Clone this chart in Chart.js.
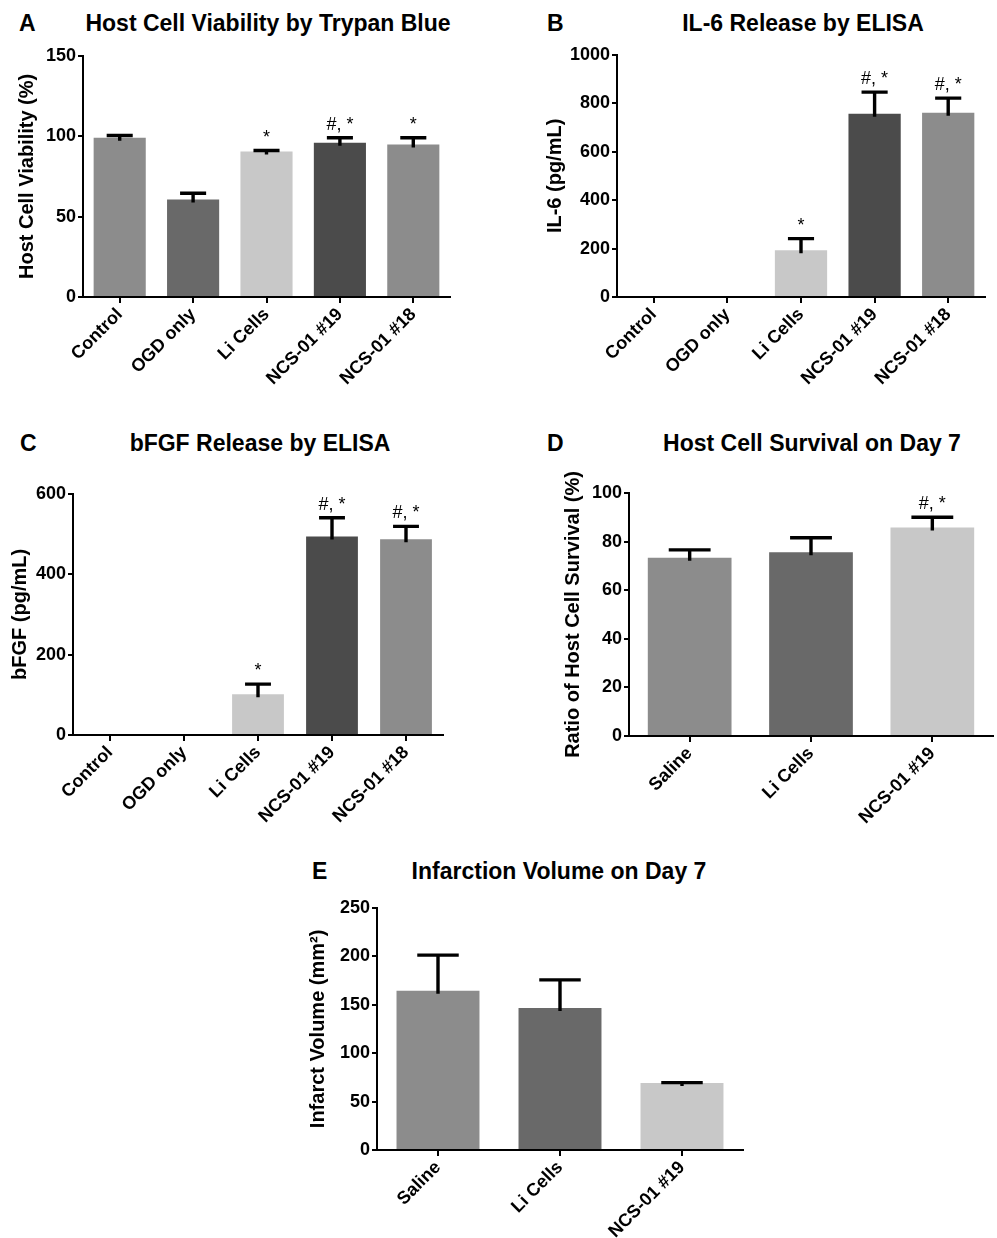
<!DOCTYPE html>
<html>
<head>
<meta charset="utf-8">
<script src="https://cdn.jsdelivr.net/npm/chart.js@4.4.1/dist/chart.umd.min.js"></script>
<style>
  html, body { margin:0; padding:0; background:#fff; width:997px; height:1238px; overflow:hidden; }
  body { position:relative; font-family:"Liberation Sans", Arial, sans-serif; }
  .cv { position:absolute; }
  .ttl { position:absolute; width:600px; text-align:center; font-weight:bold; font-size:23px; line-height:28px; color:#000; white-space:nowrap; }
  .lt { position:absolute; font-weight:bold; font-size:23px; line-height:28px; color:#000; }
</style>
</head>
<body>
<div class="lt" style="left:19px;top:9px;">A</div>
<div class="ttl" style="left:-32px;top:9px;">Host Cell Viability by Trypan Blue</div>
<div class="lt" style="left:547px;top:9px;">B</div>
<div class="ttl" style="left:503px;top:9px;">IL-6 Release by ELISA</div>
<div class="lt" style="left:20px;top:429px;">C</div>
<div class="ttl" style="left:-40px;top:429px;">bFGF Release by ELISA</div>
<div class="lt" style="left:547px;top:429px;">D</div>
<div class="ttl" style="left:512px;top:429px;">Host Cell Survival on Day 7</div>
<div class="lt" style="left:312px;top:857px;">E</div>
<div class="ttl" style="left:259px;top:857px;">Infarction Volume on Day 7</div>

<canvas id="cA" class="cv"></canvas>
<canvas id="cB" class="cv"></canvas>
<canvas id="cC" class="cv"></canvas>
<canvas id="cD" class="cv"></canvas>
<canvas id="cE" class="cv"></canvas>

<script>
// ---------- DATA ----------
const invitroGroups = ['Control', 'OGD only', 'Li Cells', 'NCS-01 #19', 'NCS-01 #18'];
const invivoGroups  = ['Saline', 'Li Cells', 'NCS-01 #19'];

const viabilityMean  = [99, 60.7, 90.5, 96, 94.8];
const viabilityErr   = [1.4, 3.8, 0.6, 3, 4.2];
const viabilityMarks = ['', '', '*', '#, *', '*'];

const il6Mean  = [0, 0, 193, 757, 761];
const il6Err   = [null, null, 48, 89, 60];
const il6Marks = ['', '', '*', '#, *', '#, *'];

const bfgfMean  = [0, 0, 101.5, 493.5, 487];
const bfgfErr   = [null, null, 25, 47, 32];
const bfgfMarks = ['', '', '*', '#, *', '#, *'];

const survivalMean  = [73.4, 75.6, 85.8];
const survivalErr   = [3.2, 6, 4.2];
const survivalMarks = ['', '', '#, *'];

const infarctMean  = [164.5, 146.6, 69.2];
const infarctErr   = [36.7, 29, 0.3];
const infarctMarks = ['', '', ''];

const invitroColors = ['#8c8c8c', '#696969', '#c8c8c8', '#4b4b4b', '#8c8c8c'];
const invivoColors  = ['#8c8c8c', '#696969', '#c8c8c8'];

// ---------- PLUGIN: upper error bars + significance marks ----------
const errPlugin = {
  id: 'errbars',
  afterDatasetsDraw(chart, args, opts) {
    const ctx = chart.ctx;
    const meta = chart.getDatasetMeta(0);
    const ds = chart.data.datasets[0];
    const ys = chart.scales.y;
    ctx.save();
    meta.data.forEach((bar, i) => {
      const v = ds.data[i];
      const e = opts.err[i];
      if (e === null || e === undefined) return;
      const yv = ys.getPixelForValue(v);
      const yt = ys.getPixelForValue(v + e);
      const half = bar.width * 0.25;
      ctx.strokeStyle = '#000';
      ctx.lineWidth = 3.4;
      ctx.lineCap = 'butt';
      ctx.beginPath();
      ctx.moveTo(bar.x, yv + 3);
      ctx.lineTo(bar.x, yt);
      ctx.moveTo(bar.x - half, yt);
      ctx.lineTo(bar.x + half, yt);
      ctx.stroke();
      const m = opts.marks[i];
      if (m) {
        ctx.fillStyle = '#000';
        ctx.font = '18px "Liberation Sans", Arial, sans-serif';
        ctx.textAlign = 'center';
        ctx.textBaseline = 'alphabetic';
        ctx.fillText(m, bar.x, yt - 8);
      }
    });
    ctx.restore();
  }
};

function place(id, left, top, w, h) {
  const c = document.getElementById(id);
  c.style.left = left + 'px';
  c.style.top = top + 'px';
  c.style.width = w + 'px';
  c.style.height = h + 'px';
  c.width = w; c.height = h;
  return c;
}

const FONT = '"Liberation Sans", Arial, sans-serif';

function makeChart(id, box, labels, values, colors, err, marks, yMax, yStep, yTitle, barPct) {
  const c = place(id, box.left, box.top, box.w, box.h);
  return new Chart(c, {
    type: 'bar',
    data: {
      labels: labels,
      datasets: [{
        data: values,
        backgroundColor: colors,
        borderWidth: 0,
        categoryPercentage: 1.0,
        barPercentage: barPct
      }]
    },
    options: {
      responsive: false,
      animation: false,
      devicePixelRatio: 1,
      layout: { padding: { top: box.padT, right: box.padR, left: 0, bottom: 0 } },
      plugins: {
        legend: { display: false },
        tooltip: { enabled: false },
        title: { display: false },
        errbars: { err: err, marks: marks }
      },
      scales: {
        x: {
          type: 'category',
          offset: true,
          afterFit: (s) => { s.height = box.xH; },
          grid: { display: true, drawOnChartArea: false, drawTicks: true, tickLength: 6, color: '#000', lineWidth: 2, offset: false },
          border: { display: true, color: '#000', width: 2 },
          ticks: { color: '#000', font: { family: FONT, size: 18, weight: 'bold' }, maxRotation: 45, minRotation: 45, autoSkip: false, padding: 1 }
        },
        y: {
          min: 0, max: yMax,
          afterFit: (s) => { s.width = box.yW; },
          grid: { display: true, drawOnChartArea: false, drawTicks: true, tickLength: 5, color: '#000', lineWidth: 2 },
          border: { display: true, color: '#000', width: 2 },
          ticks: { stepSize: yStep, color: '#000', font: { family: FONT, size: 18, weight: 'bold' }, padding: 2,
                   callback: (v) => String(v) },
          title: { display: true, text: yTitle, color: '#000', font: { family: FONT, size: 20, weight: 'bold' }, padding: { top: box.tPad, bottom: 0 } }
        }
      }
    },
    plugins: [errPlugin]
  });
}

makeChart('cA', { left: 0, top: 43, w: 456, h: 349, padT: 12, padR: 6, yW: 83, xH: 95, tPad: 15 },
  invitroGroups, viabilityMean, invitroColors, viabilityErr, viabilityMarks, 150, 50, 'Host Cell Viability (%)', 0.71);

makeChart('cB', { left: 540, top: 42, w: 451, h: 350, padT: 12, padR: 6, yW: 77, xH: 95, tPad: 3 },
  invitroGroups, il6Mean, invitroColors, il6Err, il6Marks, 1000, 200, 'IL-6 (pg/mL)', 0.71);

makeChart('cC', { left: 0, top: 481, w: 449, h: 349, padT: 12, padR: 6, yW: 73, xH: 95, tPad: 8 },
  invitroGroups, bfgfMean, invitroColors, bfgfErr, bfgfMarks, 600, 200, 'bFGF (pg/mL)', 0.70);

makeChart('cD', { left: 559, top: 463, w: 438, h: 368, padT: 30, padR: 4, yW: 70, xH: 95, tPad: 2 },
  invivoGroups, survivalMean, invivoColors, survivalErr, survivalMarks, 100, 20, 'Ratio of Host Cell Survival (%)', 0.69);

makeChart('cE', { left: 304, top: 895, w: 445, h: 343, padT: 12, padR: 6, yW: 73, xH: 88, tPad: 2 },
  invivoGroups, infarctMean, invivoColors, infarctErr, infarctMarks, 250, 50, 'Infarct Volume (mm²)', 0.68);
</script>
</body>
</html>
